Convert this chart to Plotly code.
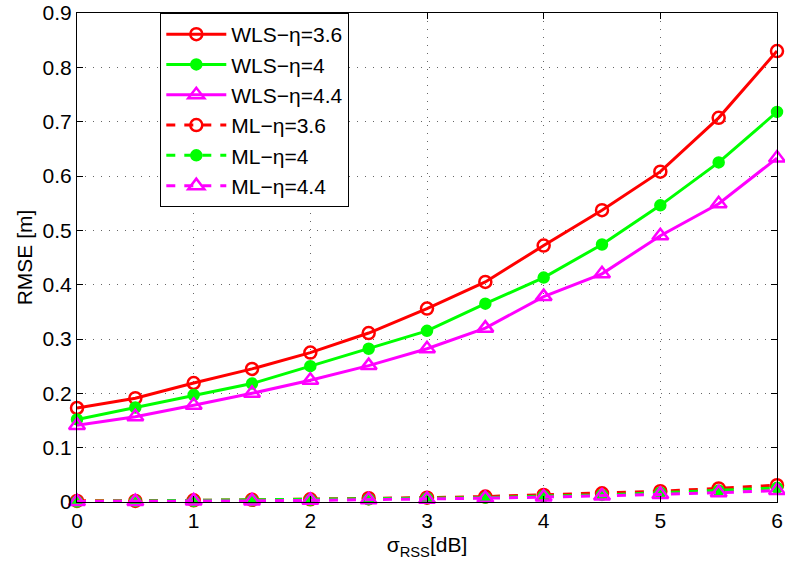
import plotly.graph_objects as go

sigma_rss = [0, 0.5, 1, 1.5, 2, 2.5, 3, 3.5, 4, 4.5, 5, 5.5, 6]

wls_36 = [0.173, 0.191, 0.219, 0.245, 0.275, 0.311, 0.356, 0.405, 0.472, 0.537, 0.608, 0.707, 0.830]
wls_40 = [0.152, 0.174, 0.197, 0.218, 0.250, 0.282, 0.315, 0.365, 0.413, 0.474, 0.546, 0.625, 0.718]
wls_44 = [0.141, 0.157, 0.178, 0.200, 0.224, 0.251, 0.282, 0.320, 0.378, 0.420, 0.490, 0.549, 0.633]

ml_36 = [0.002, 0.002, 0.003, 0.004, 0.005, 0.007, 0.008, 0.010, 0.013, 0.016, 0.020, 0.025, 0.031]
ml_40 = [0.001, 0.002, 0.002, 0.003, 0.004, 0.005, 0.007, 0.008, 0.011, 0.013, 0.017, 0.021, 0.026]
ml_44 = [0.001, 0.001, 0.002, 0.002, 0.003, 0.004, 0.005, 0.007, 0.009, 0.011, 0.014, 0.017, 0.021]

series = [
    ("WLS\u2212\u03b7=3.6", wls_36, "#ff0000", "circle-open", 12, "solid"),
    ("WLS\u2212\u03b7=4", wls_40, "#00ff00", "circle", 10, "solid"),
    ("WLS\u2212\u03b7=4.4", wls_44, "#ff00ff", "triangle-up-open", 14, "solid"),
    ("ML\u2212\u03b7=3.6", ml_36, "#ff0000", "circle-open", 12, "dash"),
    ("ML\u2212\u03b7=4", ml_40, "#00ff00", "circle", 10, "dash"),
    ("ML\u2212\u03b7=4.4", ml_44, "#ff00ff", "triangle-up-open", 14, "dash"),
]

fig = go.Figure()
for name, vals, color, symbol, msize, dash in series:
    fig.add_trace(go.Scatter(
        x=sigma_rss, y=vals, name=name, mode="lines+markers",
        line=dict(color=color, width=3, dash=dash),
        marker=dict(symbol=symbol, size=msize, color=color,
                    line=dict(color=color, width=2.5)),
        cliponaxis=False,
    ))

axis_common = dict(
    showline=True, linecolor="black", linewidth=1, mirror="allticks",
    ticks="inside", ticklen=6, tickcolor="black",
    showgrid=True, gridcolor="#666666", griddash="1px,7px", gridwidth=1,
    zeroline=False, tickfont=dict(size=21, color="black"),
    ticklabeloverflow="allow", automargin=False,
)

fig.update_xaxes(range=[0, 6], tickvals=[0, 1, 2, 3, 4, 5, 6],
                 title=dict(text="\u03c3<sub>RSS</sub>[dB]", font=dict(size=21, color="black"), standoff=6),
                 **axis_common)
fig.update_yaxes(range=[0, 0.9], tickvals=[0, 0.1, 0.2, 0.3, 0.4, 0.5, 0.6, 0.7, 0.8, 0.9],
                 ticktext=["0", "0.1", "0.2", "0.3", "0.4", "0.5", "0.6", "0.7", "0.8", "0.9"],
                 title=dict(text="RMSE [m]", font=dict(size=21, color="black"), standoff=4),
                 **axis_common)

fig.update_layout(
    width=785, height=571,
    margin=dict(l=77, r=8, t=13, b=69),
    paper_bgcolor="white", plot_bgcolor="white",
    font=dict(family="Liberation Sans, Arial, sans-serif", color="black"),
    legend=dict(x=0.119, y=1.0, xanchor="left", yanchor="top",
                bgcolor="white", bordercolor="black", borderwidth=1,
                font=dict(size=21, color="black"), itemwidth=60),
    showlegend=True,
)

fig.write_html("out.html")
